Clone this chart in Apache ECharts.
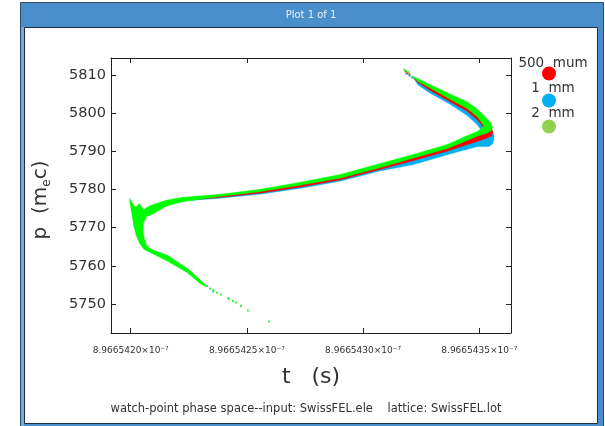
<!DOCTYPE html>
<html>
<head>
<meta charset="utf-8">
<script src="https://cdn.jsdelivr.net/npm/echarts@6.0.0/dist/echarts.min.js"></script>
<style>
  html, body { margin: 0; padding: 0; background: #ffffff; }
  #chart { width: 605px; height: 426px; }
</style>
</head>
<body>
<div id="chart"></div>
<script>
// Time axis values are in units of 1e-14 s, measured from T0 = 8.966542e-7 s.
// Momentum is in units of m_e c.

const seriesNames = ['500  mum', '1  mm', '2  mm'];

const xTicks = [0, 5, 10, 15];
const xTickLabels = ['8.9665420×10⁻⁷', '8.9665425×10⁻⁷', '8.9665430×10⁻⁷', '8.9665435×10⁻⁷'];
const yTicks = [5750, 5760, 5770, 5780, 5790, 5800, 5810];

const xRange = [-0.848, 16.364];
const yRange = [5742.41, 5814.45];

// Envelope of the particle cloud for each beam (closed outline, [t, p]).
const greenOutline = [
  [12.061, 5809.87], [12.362, 5808.30], [12.879, 5806.59], [13.739, 5803.63], [14.458, 5801.28], [14.944, 5798.87], [15.202, 5796.51],
  [14.901, 5795.20], [14.299, 5793.63], [13.610, 5791.79], [12.147, 5789.17], [10.727, 5786.81], [9.006, 5783.93], [7.285, 5781.90],
  [5.564, 5780.05], [3.843, 5778.75], [2.250, 5777.96], [1.562, 5777.25], [0.830, 5775.81], [0.551, 5774.76],
  [0.370, 5776.33], [0.207, 5775.29], [-0.060, 5777.78],
  [-0.009, 5775.42], [0.056, 5773.32], [0.120, 5770.70], [0.228, 5768.08], [0.379, 5765.85], [0.572, 5764.28],
  [0.917, 5763.23], [1.562, 5761.27], [2.423, 5758.26], [2.982, 5755.38], [3.240, 5754.46],
  [3.197, 5755.11], [2.982, 5756.42], [2.423, 5759.43], [1.562, 5762.84], [0.917, 5764.28], [0.701, 5765.20],
  [0.594, 5767.03], [0.529, 5769.13], [0.551, 5771.22], [0.688, 5772.93],
  [0.830, 5773.19], [1.562, 5775.68], [2.250, 5776.80], [3.843, 5778.15], [5.564, 5779.42], [7.285, 5781.10], [9.006, 5782.95],
  [10.727, 5785.70], [12.147, 5788.20], [13.610, 5790.70], [14.299, 5792.40], [14.901, 5793.95], [15.288, 5794.67],
  [15.503, 5795.33], [15.568, 5796.25], [15.503, 5797.42],
  [15.202, 5799.39], [14.858, 5801.35], [14.458, 5803.06], [13.739, 5805.02], [12.879, 5807.51], [12.362, 5809.08]
];

const redOutline = [
  [12.104, 5809.48], [12.362, 5808.04], [12.879, 5805.94], [13.739, 5802.98], [14.458, 5800.57], [14.944, 5798.08], [15.245, 5795.72],
  [14.944, 5794.28], [14.299, 5792.97], [13.610, 5791.27], [12.147, 5788.65], [10.727, 5786.29], [9.006, 5783.41], [7.285, 5781.44],
  [5.564, 5779.74], [3.843, 5778.48], [2.552, 5777.78],
  [2.552, 5777.25], [3.843, 5777.88], [5.564, 5779.03], [7.285, 5780.60], [9.006, 5782.49], [10.727, 5785.24], [12.147, 5787.55],
  [13.610, 5790.01], [14.299, 5791.40], [14.901, 5792.58], [15.288, 5793.36],
  [15.525, 5794.02], [15.589, 5794.94], [15.525, 5796.11],
  [15.202, 5798.34], [14.858, 5800.44], [14.458, 5802.14], [13.739, 5804.37], [12.879, 5807.12], [12.362, 5808.69]
];

const blueOutline = [
  [12.190, 5808.95], [12.362, 5807.38], [12.879, 5805.23], [13.739, 5802.32], [14.458, 5799.44], [14.858, 5797.29], [15.116, 5795.33],
  [14.858, 5793.63], [14.299, 5792.45], [13.610, 5790.87], [12.147, 5788.25], [10.727, 5785.90], [9.006, 5783.01], [7.285, 5781.05],
  [5.564, 5779.48], [3.843, 5778.30], [2.552, 5777.64],
  [2.552, 5777.12], [3.843, 5777.70], [5.564, 5778.74], [7.285, 5780.26], [9.006, 5782.15], [10.727, 5784.85], [12.147, 5786.47],
  [13.008, 5787.99], [13.739, 5789.30], [14.458, 5790.48], [14.901, 5791.19], [15.202, 5791.27],
  [15.417, 5791.27], [15.568, 5791.92], [15.632, 5792.97], [15.632, 5794.15], [15.568, 5795.20],
  [15.288, 5796.64], [14.944, 5799.26], [14.458, 5801.35], [13.739, 5803.84], [12.879, 5806.59], [12.362, 5808.17]
];

// Isolated particles in the sparse tails.
const greenDots = [
  [11.781, 5811.36], [11.867, 5811.05], [11.953, 5810.71],
  [3.111, 5755.50], [3.283, 5754.72], [3.412, 5754.06], [3.563, 5753.67], [3.713, 5753.02], [3.886, 5752.49],
  [4.187, 5751.44], [4.402, 5750.79], [4.531, 5750.40], [4.746, 5749.48], [5.047, 5748.30], [5.951, 5745.42]
];
const redDots = [[11.824, 5810.92], [11.910, 5810.52], [11.997, 5810.13]];
const blueDots = [[11.867, 5810.26], [11.997, 5809.79], [12.104, 5809.35], [3.541, 5753.28], [4.230, 5751.44]];

const dataColors = ['#ff0000', '#00b0f0', '#00ff00'];
const legendColors = ['#ff0000', '#00b0f0', '#92d050'];

const FONT = 'DejaVu Sans';
const INK = '#333333';

function bandSeries(name, outline, color, z) {
  return {
    type: 'custom',
    name: name,
    coordinateSystem: 'cartesian2d',
    data: outline,
    encode: { x: 0, y: 1 },
    z: z,
    silent: true,
    animation: false,
    renderItem: function (params, api) {
      if (params.dataIndex !== 0) return null;
      const pts = outline.map(function (pt) { return api.coord(pt); });
      return {
        type: 'polygon',
        shape: { points: pts },
        style: { fill: color, stroke: color, lineWidth: 0.3 }
      };
    }
  };
}

function dotSeries(name, dots, color, z) {
  return {
    type: 'scatter',
    name: name,
    data: dots,
    symbol: 'rect',
    symbolSize: 2,
    itemStyle: { color: color },
    z: z,
    silent: true,
    animation: false
  };
}

const axisLineStyle = { color: '#222222', width: 1 };

function xAxisDef(position, showLabels) {
  return {
    type: 'value', position: position, min: xRange[0], max: xRange[1],
    axisLine: { show: true, onZero: false, lineStyle: axisLineStyle },
    axisTick: { show: true, inside: true, length: 5, customValues: xTicks, lineStyle: axisLineStyle },
    axisLabel: {
      show: showLabels, customValues: xTicks, margin: 13,
      fontFamily: FONT, fontSize: 9, color: INK,
      formatter: function (v) {
        const i = xTicks.indexOf(Math.round(v));
        return i >= 0 ? xTickLabels[i] : '';
      }
    },
    splitLine: { show: false }
  };
}

function yAxisDef(position, showLabels) {
  return {
    type: 'value', position: position, min: yRange[0], max: yRange[1],
    axisLine: { show: true, onZero: false, lineStyle: axisLineStyle },
    axisTick: { show: true, inside: true, length: 5, customValues: yTicks, lineStyle: axisLineStyle },
    axisLabel: {
      show: showLabels, customValues: yTicks, margin: 5,
      fontFamily: FONT, fontSize: 14.5, color: INK,
      formatter: function (v) { return String(Math.round(v)); }
    },
    splitLine: { show: false }
  };
}

const xBottom = xAxisDef('bottom', true);
xBottom.name = 't   (s)';
xBottom.nameLocation = 'middle';
xBottom.nameGap = 33;
xBottom.nameTextStyle = { fontFamily: FONT, fontSize: 22, color: INK };

const yLeft = yAxisDef('left', true);
yLeft.name = '{m|p  (m}{s|e}{m|c)}';
yLeft.nameLocation = 'middle';
yLeft.nameRotate = 90;
yLeft.nameGap = 58;
yLeft.nameTextStyle = {
  padding: [0, 9, 0, 0],
  rich: {
    m: { fontFamily: FONT, fontSize: 20, color: INK },
    s: { fontFamily: FONT, fontSize: 12, color: INK, verticalAlign: 'top', padding: [12, 0, 0, 0] }
  }
};

// Window frame, title bar and legend.
const graphics = [
  { type: 'rect', z: -20, shape: { x: 20.5, y: 2.5, width: 583, height: 430 },
    style: { fill: '#4a8fcb', stroke: '#2b4a68', lineWidth: 1 } },
  { type: 'rect', z: -19, shape: { x: 21, y: 27, width: 3, height: 405 },
    style: { fill: '#74aade' } },
  { type: 'rect', z: -18, shape: { x: 24.5, y: 27.5, width: 573, height: 396 },
    style: { fill: '#ffffff', stroke: '#1d2c3c', lineWidth: 1 } },
  { type: 'text', z: 50, x: 311, y: 15,
    style: { text: 'Plot 1 of 1', fontFamily: FONT, fontSize: 10, fill: '#e6eef7', align: 'center', verticalAlign: 'middle' } },
  { type: 'text', z: 50, x: 306, y: 409,
    style: { text: 'watch-point phase space--input: SwissFEL.ele    lattice: SwissFEL.lot',
      fontFamily: FONT, fontSize: 11.5, fill: INK, align: 'center', verticalAlign: 'middle' } }
];
const legendTextY = [63, 88.5, 113.5];
const legendDotY = [73.5, 100.5, 126.5];
seriesNames.forEach(function (name, i) {
  graphics.push({ type: 'text', z: 50, x: 553, y: legendTextY[i],
    style: { text: name, fontFamily: FONT, fontSize: 13.5, fill: INK, align: 'center', verticalAlign: 'middle' } });
  graphics.push({ type: 'circle', z: 50, shape: { cx: 549, cy: legendDotY[i], r: 7 },
    style: { fill: legendColors[i] } });
});

const chart = echarts.init(document.getElementById('chart'), null, { renderer: 'canvas' });
chart.setOption({
  backgroundColor: '#ffffff',
  animation: false,
  grid: { left: 111, top: 58, width: 400, height: 275, containLabel: false },
  xAxis: [xBottom, xAxisDef('top', false)],
  yAxis: [yLeft, yAxisDef('right', false)],
  graphic: graphics,
  series: [
    bandSeries(seriesNames[1], blueOutline, dataColors[1], 2),
    bandSeries(seriesNames[0], redOutline, dataColors[0], 3),
    bandSeries(seriesNames[2], greenOutline, dataColors[2], 4),
    dotSeries(seriesNames[1], blueDots, dataColors[1], 5),
    dotSeries(seriesNames[0], redDots, dataColors[0], 5),
    dotSeries(seriesNames[2], greenDots, dataColors[2], 6)
  ]
});
</script>
</body>
</html>
